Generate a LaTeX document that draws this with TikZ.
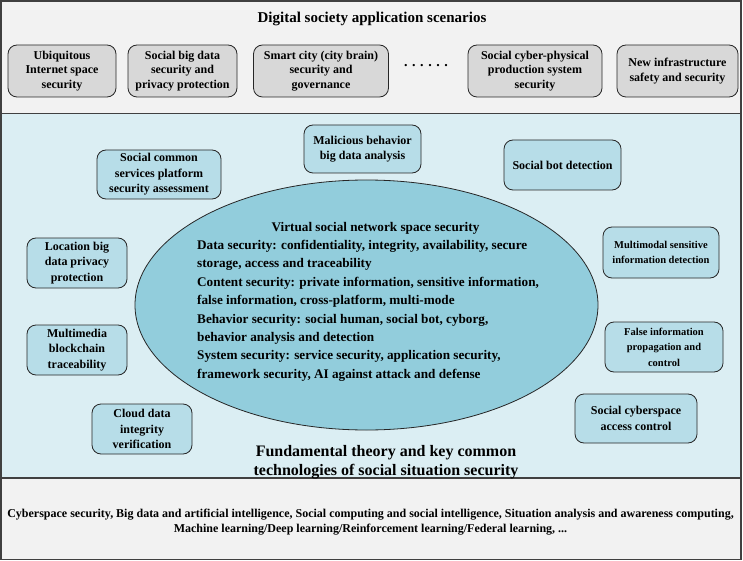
\documentclass[tikz,border=0pt]{standalone}
\usepackage{fontspec}
\setmainfont{Liberation Serif}
\usetikzlibrary{shapes.geometric}
\definecolor{topfill}{HTML}{F2F2F2}
\definecolor{grayfill}{HTML}{D8D8D8}
\definecolor{midfill}{HTML}{DBEEF3}
\definecolor{bluefill}{HTML}{B7DDE8}
\definecolor{ellfill}{HTML}{92CDDC}
\definecolor{edge}{HTML}{262626}
\definecolor{panedge}{HTML}{404040}
\begin{document}
\begin{tikzpicture}[x=1pt,y=-1pt,
  panel/.style={draw=panedge,line width=1.1pt},
  rbox/.style={draw=edge,line width=0.8pt,rounded corners=9pt,align=center,
     font=\fontsize{12}{15}\selectfont\bfseries,inner sep=0pt},
  graybox/.style={rbox,fill=grayfill,font=\fontsize{12}{14.5}\selectfont\bfseries},
  bluebox/.style={rbox,fill=bluefill,font=\fontsize{12}{15.5}\selectfont\bfseries},
  smallbox/.style={bluebox,font=\fontsize{10.5}{15.5}\selectfont\bfseries}]
\useasboundingbox (0,0) rectangle (743,561);
% panels
\draw[panel,fill=topfill] (1,1) rectangle (741,113.5);
\draw[panel,fill=midfill] (1,113.5) rectangle (741,478);
\draw[panel,fill=topfill] (1,478) rectangle (741,559.5);
% title
\node[font=\fontsize{15}{17}\selectfont\bfseries] (title) at (372,19) {Digital society application scenarios};
% top boxes
\node[graybox,minimum width=108pt,minimum height=52pt] (t1) at (62,71) {Ubiquitous\\Internet space\\security};
\node[graybox,minimum width=109pt,minimum height=52pt] (t2) at (182.5,71) {Social big data\\security and\\privacy protection};
\node[graybox,minimum width=135pt,minimum height=52pt] (t3) at (321,71) {Smart city (city brain)\\security and\\governance};
\node[font=\fontsize{14}{16}\selectfont\bfseries] (dots) at (426,66) {.\hspace{4.6pt}.\hspace{4.6pt}.\hspace{4.6pt}.\hspace{4.6pt}.\hspace{4.6pt}.};
\node[graybox,minimum width=134pt,minimum height=52pt] (t4) at (535,71) {Social cyber-physical\\production system\\security};
\node[graybox,minimum width=121pt,minimum height=52pt] (t5) at (677.5,71) {New infrastructure\\safety and security};
% ellipse
\node[ellipse,draw=edge,line width=0.8pt,fill=ellfill,minimum width=463pt,minimum height=250pt] (ell) at (366.5,305) {};
\node[font=\fontsize{13.2}{15}\selectfont\bfseries,anchor=base] (etitle) at (375.5,231.5) {Virtual social network space security};
\node[font=\fontsize{13.2}{18.4}\selectfont\bfseries,align=left,anchor=north west,inner sep=0pt] (ebody) at (197,240)
 {Data security: confidentiality, integrity, availability, secure\\
  storage, access and traceability\\
  Content security: private information, sensitive information,\\
  false information, cross-platform, multi-mode\\
  Behavior security: social human, social bot, cyborg,\\
  behavior analysis and detection\\
  System security: service security, application security,\\
  framework security, AI against attack and defense};
% blue boxes
\node[bluebox,minimum width=117pt,minimum height=48pt] (mal) at (362.5,149) {Malicious behavior\\big data analysis};
\node[bluebox,minimum width=124pt,minimum height=49pt] (scs) at (159,174.5) {Social common\\services platform\\security assessment};
\node[bluebox,minimum width=117pt,minimum height=50pt] (bot) at (562.5,165) {Social bot detection};
\node[bluebox,minimum width=100pt,minimum height=50pt] (loc) at (77,263) {Location big\\data privacy\\protection};
\node[smallbox,minimum width=116pt,minimum height=51pt] (mms) at (661,252.5) {Multimodal sensitive\\information detection};
\node[bluebox,minimum width=100pt,minimum height=50pt] (mmb) at (77,350) {Multimedia\\blockchain\\traceability};
\node[smallbox,minimum width=118pt,minimum height=50pt] (fip) at (664,347) {False information\\propagation and\\control};
\node[bluebox,minimum width=100pt,minimum height=50pt] (cld) at (142,429) {Cloud data\\integrity\\verification};
\node[bluebox,minimum width=122pt,minimum height=49pt] (sca) at (636,418.5) {Social cyberspace\\access control};
% fundamental
\node[font=\fontsize{16}{19}\selectfont\bfseries,align=center] (fund) at (386,462.5) {Fundamental theory and key common\\technologies of social situation security};
% bottom
\node[font=\fontsize{12}{15}\selectfont\bfseries,align=center] (bot2) at (370.5,522) {Cyberspace security, Big data and artificial intelligence, Social computing and social intelligence, Situation analysis and awareness computing,\\Machine learning/Deep learning/Reinforcement learning/Federal learning, ...};
\end{tikzpicture}
\end{document}
